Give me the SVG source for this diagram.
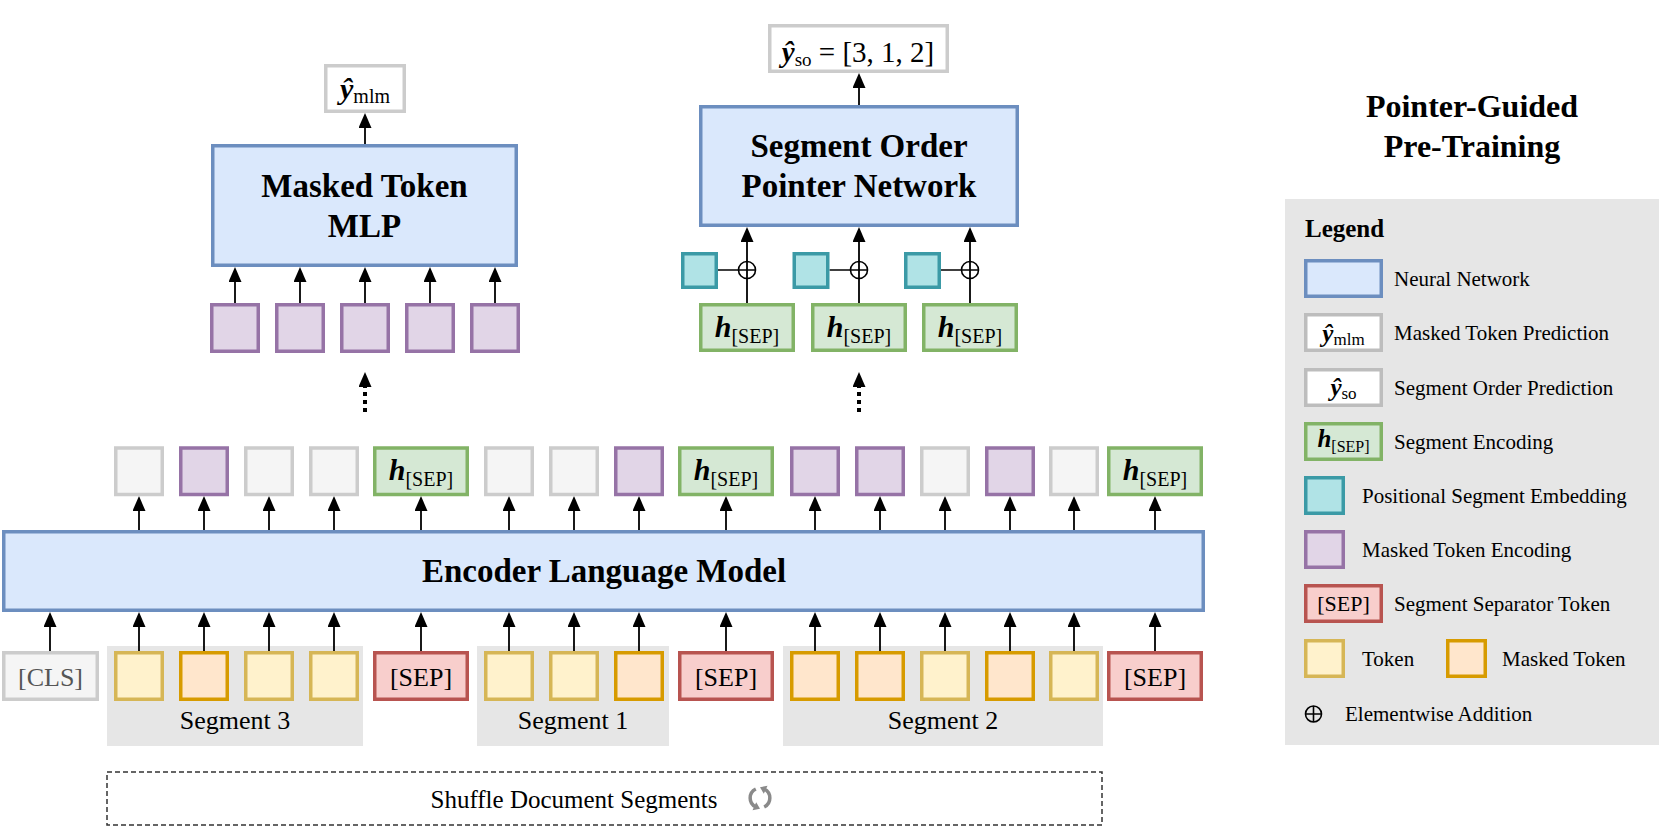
<svg xmlns="http://www.w3.org/2000/svg" width="1661" height="832" viewBox="0 0 1661 832">
<style>
.nn{fill:#dae8fc;stroke:#6c8ebf;stroke-width:3.5}
.gr{fill:#f5f5f5;stroke:#cccccc;stroke-width:3.5}
.pu{fill:#e1d5e7;stroke:#9673a6;stroke-width:3.5}
.gn{fill:#d5e8d4;stroke:#82b366;stroke-width:3.5}
.tl{fill:#b0e3e6;stroke:#3b9aa6;stroke-width:3.5}
.sp{fill:#f8cecc;stroke:#b85450;stroke-width:3.5}
.tk{fill:#fff2cc;stroke:#d6b656;stroke-width:3.5}
.mk{fill:#ffe6cc;stroke:#d79b00;stroke-width:3.5}
.out{fill:#ffffff;stroke:#cccccc;stroke-width:3.5}
.lout{fill:#ffffff;stroke:#bdbdbd;stroke-width:3.5}
.seg{fill:#e6e6e6}
.t{font-family:"Liberation Serif","Times New Roman",serif;fill:#000}
.b{font-weight:bold}
.bi{font-weight:bold;font-style:italic}
.ar{stroke:#000;stroke-width:1.8;fill:none;marker-end:url(#ah)}
.dt{stroke:#000;stroke-width:4;fill:none;stroke-dasharray:4 4;marker-end:url(#ahd)}
.pl{fill:none;stroke:#000;stroke-width:1.6}
</style>
<defs>
<marker id="ah" markerWidth="15" markerHeight="13" refX="9" refY="6.5" orient="auto" markerUnits="userSpaceOnUse"><path d="M0,0 L15,6.5 L0,13 z" fill="#000"/></marker>
<marker id="ahd" markerWidth="15" markerHeight="13" refX="0" refY="6.5" orient="auto" markerUnits="userSpaceOnUse"><path d="M0,0 L15,6.5 L0,13 z" fill="#000"/></marker>
</defs>
<rect width="1661" height="832" fill="#ffffff"/>

<g id="segment-backgrounds">
<rect class="seg" x="107" y="646" width="256" height="100"/>
<rect class="seg" x="477" y="646" width="192" height="100"/>
<rect class="seg" x="783" y="646" width="320" height="100"/>
<text class="t" x="235" y="729" font-size="26" text-anchor="middle">Segment 3</text>
<text class="t" x="573" y="729" font-size="26" text-anchor="middle">Segment 1</text>
<text class="t" x="943" y="729" font-size="26" text-anchor="middle">Segment 2</text>
</g>

<g id="shuffle">
<rect x="107" y="772" width="995" height="53" fill="none" stroke="#333" stroke-width="1.5" stroke-dasharray="5 3"/>
<text class="t" x="574" y="808" font-size="25" text-anchor="middle">Shuffle Document Segments</text>
<g fill="none" stroke="#8a8a8a" stroke-width="3.5">
<path d="M755.8,789 A10,10 0 0 0 755.8,807"/>
<path d="M764.2,807 A10,10 0 0 0 764.2,789"/>
</g>
<polygon points="760,808.8 752.5,810.2 756.2,802.2" fill="#8a8a8a"/>
<polygon points="760,787.2 767.5,785.8 763.8,793.8" fill="#8a8a8a"/>
</g>

<g id="connectors">
<path class="ar" d="M50,651 V618"/>
<path class="ar" d="M139,651 V618"/>
<path class="ar" d="M204,651 V618"/>
<path class="ar" d="M269,651 V618"/>
<path class="ar" d="M334,651 V618"/>
<path class="ar" d="M421,651 V618"/>
<path class="ar" d="M509,651 V618"/>
<path class="ar" d="M574,651 V618"/>
<path class="ar" d="M639,651 V618"/>
<path class="ar" d="M726,651 V618"/>
<path class="ar" d="M815,651 V618"/>
<path class="ar" d="M880,651 V618"/>
<path class="ar" d="M945,651 V618"/>
<path class="ar" d="M1010,651 V618"/>
<path class="ar" d="M1074,651 V618"/>
<path class="ar" d="M1155,651 V618"/>
<path class="ar" d="M139,530 V502"/>
<path class="ar" d="M204,530 V502"/>
<path class="ar" d="M269,530 V502"/>
<path class="ar" d="M334,530 V502"/>
<path class="ar" d="M421,530 V502"/>
<path class="ar" d="M509,530 V502"/>
<path class="ar" d="M574,530 V502"/>
<path class="ar" d="M639,530 V502"/>
<path class="ar" d="M726,530 V502"/>
<path class="ar" d="M815,530 V502"/>
<path class="ar" d="M880,530 V502"/>
<path class="ar" d="M945,530 V502"/>
<path class="ar" d="M1010,530 V502"/>
<path class="ar" d="M1074,530 V502"/>
<path class="ar" d="M1155,530 V502"/>
<path class="dt" d="M365,412 V387"/>
<path class="dt" d="M859,412 V387"/>
<path class="ar" d="M235,303 V273"/>
<path class="ar" d="M300,303 V273"/>
<path class="ar" d="M365,303 V273"/>
<path class="ar" d="M430,303 V273"/>
<path class="ar" d="M495,303 V273"/>
<path class="ar" d="M365,144 V119"/>
<path class="ar" d="M747,303 V233"/>
<path class="ar" d="M859,303 V233"/>
<path class="ar" d="M970,303 V233"/>
<path class="ar" d="M859,105 V79"/>
<path class="pl" d="M718,270 H755.5"/>
<path class="pl" d="M829.5,270 H867.5"/>
<path class="pl" d="M941,270 H978.5"/>
<circle class="pl" cx="747" cy="270" r="8.5"/>
<circle class="pl" cx="859" cy="270" r="8.5"/>
<circle class="pl" cx="970" cy="270" r="8.5"/>
</g>

<g id="encoder">
<rect class="nn" x="3.75" y="531.75" width="1199.5" height="78.5"/>
<text class="t b" x="604" y="582" font-size="33" text-anchor="middle">Encoder Language Model</text>
</g>

<g id="input-row">
<rect class="gr" x="3.75" y="652.75" width="93.5" height="46.5"/>
<text class="t" x="50.5" y="686" font-size="26" text-anchor="middle" style="fill:#555">[CLS]</text>
<rect class="tk" x="115.75" y="652.75" width="46.5" height="46.5"/>
<rect class="mk" x="180.75" y="652.75" width="46.5" height="46.5"/>
<rect class="tk" x="245.75" y="652.75" width="46.5" height="46.5"/>
<rect class="tk" x="310.75" y="652.75" width="46.5" height="46.5"/>
<rect class="sp" x="374.75" y="652.75" width="92.5" height="46.5"/>
<text class="t" x="421" y="686" font-size="26" text-anchor="middle">[SEP]</text>
<rect class="tk" x="485.75" y="652.75" width="46.5" height="46.5"/>
<rect class="tk" x="550.75" y="652.75" width="46.5" height="46.5"/>
<rect class="mk" x="615.75" y="652.75" width="46.5" height="46.5"/>
<rect class="sp" x="679.75" y="652.75" width="92.5" height="46.5"/>
<text class="t" x="726" y="686" font-size="26" text-anchor="middle">[SEP]</text>
<rect class="mk" x="791.75" y="652.75" width="46.5" height="46.5"/>
<rect class="mk" x="856.75" y="652.75" width="46.5" height="46.5"/>
<rect class="tk" x="921.75" y="652.75" width="46.5" height="46.5"/>
<rect class="mk" x="986.75" y="652.75" width="46.5" height="46.5"/>
<rect class="tk" x="1050.75" y="652.75" width="46.5" height="46.5"/>
<rect class="sp" x="1108.75" y="652.75" width="92.5" height="46.5"/>
<text class="t" x="1155" y="686" font-size="26" text-anchor="middle">[SEP]</text>
</g>

<g id="output-row">
<rect class="gr" x="115.75" y="448" width="46.5" height="46.5"/>
<rect class="pu" x="180.75" y="448" width="46.5" height="46.5"/>
<rect class="gr" x="245.75" y="448" width="46.5" height="46.5"/>
<rect class="gr" x="310.75" y="448" width="46.5" height="46.5"/>
<rect class="gn" x="374.75" y="448" width="92.5" height="46.5"/>
<text class="t" x="421" y="480" font-size="30" text-anchor="middle"><tspan class="bi">h</tspan><tspan font-size="20" dy="6">[SEP]</tspan></text>
<rect class="gr" x="485.75" y="448" width="46.5" height="46.5"/>
<rect class="gr" x="550.75" y="448" width="46.5" height="46.5"/>
<rect class="pu" x="615.75" y="448" width="46.5" height="46.5"/>
<rect class="gn" x="679.75" y="448" width="92.5" height="46.5"/>
<text class="t" x="726" y="480" font-size="30" text-anchor="middle"><tspan class="bi">h</tspan><tspan font-size="20" dy="6">[SEP]</tspan></text>
<rect class="pu" x="791.75" y="448" width="46.5" height="46.5"/>
<rect class="pu" x="856.75" y="448" width="46.5" height="46.5"/>
<rect class="gr" x="921.75" y="448" width="46.5" height="46.5"/>
<rect class="pu" x="986.75" y="448" width="46.5" height="46.5"/>
<rect class="gr" x="1050.75" y="448" width="46.5" height="46.5"/>
<rect class="gn" x="1108.75" y="448" width="92.5" height="46.5"/>
<text class="t" x="1155" y="480" font-size="30" text-anchor="middle"><tspan class="bi">h</tspan><tspan font-size="20" dy="6">[SEP]</tspan></text>
</g>

<g id="mlm-inputs">
<rect class="pu" x="211.75" y="304.75" width="46.5" height="46.5"/>
<rect class="pu" x="276.75" y="304.75" width="46.5" height="46.5"/>
<rect class="pu" x="341.75" y="304.75" width="46.5" height="46.5"/>
<rect class="pu" x="406.75" y="304.75" width="46.5" height="46.5"/>
<rect class="pu" x="471.75" y="304.75" width="46.5" height="46.5"/>
</g>

<g id="masked-token-mlp">
<rect class="nn" x="212.75" y="145.75" width="303.5" height="119.5"/>
<text class="t b" x="364.5" y="197" font-size="33" text-anchor="middle">Masked Token</text>
<text class="t b" x="364.5" y="237" font-size="33" text-anchor="middle">MLP</text>
</g>

<g id="y-mlm">
<rect class="out" x="325.75" y="65.75" width="78.5" height="45.5"/>
<text class="t" x="365" y="99" font-size="30" text-anchor="middle"><tspan class="bi">ŷ</tspan><tspan font-size="20" dy="4">mlm</tspan></text>
</g>

<g id="pointer-inputs">
<rect class="gn" x="700.75" y="304.75" width="92.5" height="45.5"/>
<text class="t" x="747" y="337" font-size="30" text-anchor="middle"><tspan class="bi">h</tspan><tspan font-size="20" dy="6">[SEP]</tspan></text>
<rect class="gn" x="812.75" y="304.75" width="92.5" height="45.5"/>
<text class="t" x="859" y="337" font-size="30" text-anchor="middle"><tspan class="bi">h</tspan><tspan font-size="20" dy="6">[SEP]</tspan></text>
<rect class="gn" x="923.75" y="304.75" width="92.5" height="45.5"/>
<text class="t" x="970" y="337" font-size="30" text-anchor="middle"><tspan class="bi">h</tspan><tspan font-size="20" dy="6">[SEP]</tspan></text>
<rect class="tl" x="682.75" y="253.75" width="33.5" height="33.5"/>
<rect class="tl" x="794.25" y="253.75" width="33.5" height="33.5"/>
<rect class="tl" x="905.75" y="253.75" width="33.5" height="33.5"/>
</g>

<g id="pointer-network">
<rect class="nn" x="700.75" y="106.75" width="316.5" height="118.5"/>
<text class="t b" x="859" y="157" font-size="33" text-anchor="middle">Segment Order</text>
<text class="t b" x="859" y="197" font-size="33" text-anchor="middle">Pointer Network</text>
</g>

<g id="y-so">
<rect class="out" x="769.75" y="25.75" width="177.5" height="45.5"/>
<text class="t" x="858" y="62" font-size="29" text-anchor="middle"><tspan class="bi">ŷ</tspan><tspan font-size="19" dy="4">so</tspan><tspan dy="-4"> = [3, 1, 2]</tspan></text>
</g>

<g id="title">
<text class="t b" x="1472" y="117" font-size="32" text-anchor="middle">Pointer-Guided</text>
<text class="t b" x="1472" y="157" font-size="32" text-anchor="middle">Pre-Training</text>
</g>

<g id="legend">
<rect x="1285" y="199" width="374" height="546" fill="#e6e6e6"/>
<text class="t b" x="1305" y="237" font-size="25">Legend</text>
<rect class="nn" x="1305.75" y="260.75" width="75.5" height="35.5"/>
<text class="t" x="1394" y="286" font-size="21">Neural Network</text>
<rect class="lout" x="1305.75" y="314.75" width="75.5" height="35.5"/>
<text class="t" x="1343.5" y="342" font-size="25" text-anchor="middle"><tspan class="bi">ŷ</tspan><tspan font-size="17" dy="3">mlm</tspan></text>
<text class="t" x="1394" y="340" font-size="21">Masked Token Prediction</text>
<rect class="lout" x="1305.75" y="369.75" width="75.5" height="35.5"/>
<text class="t" x="1343.5" y="396" font-size="25" text-anchor="middle"><tspan class="bi">ŷ</tspan><tspan font-size="17" dy="3">so</tspan></text>
<text class="t" x="1394" y="395" font-size="21">Segment Order Prediction</text>
<rect class="gn" x="1305.75" y="423.75" width="75.5" height="35.5"/>
<text class="t" x="1343.5" y="447" font-size="25" text-anchor="middle"><tspan class="bi">h</tspan><tspan font-size="16" dy="5">[SEP]</tspan></text>
<text class="t" x="1394" y="449" font-size="21">Segment Encoding</text>
<rect class="tl" x="1305.75" y="477.75" width="37.5" height="35.5"/>
<text class="t" x="1362" y="503" font-size="21">Positional Segment Embedding</text>
<rect class="pu" x="1305.75" y="531.75" width="37.5" height="35.5"/>
<text class="t" x="1362" y="557" font-size="21">Masked Token Encoding</text>
<rect class="sp" x="1305.75" y="585.75" width="75.5" height="35.5"/>
<text class="t" x="1343.5" y="611" font-size="22" text-anchor="middle">[SEP]</text>
<text class="t" x="1394" y="611" font-size="21">Segment Separator Token</text>
<rect class="tk" x="1305.75" y="640.75" width="37.5" height="35.5"/>
<text class="t" x="1362" y="666" font-size="21">Token</text>
<rect class="mk" x="1447.75" y="640.75" width="37.5" height="35.5"/>
<text class="t" x="1502" y="666" font-size="21">Masked Token</text>
<circle class="pl" cx="1313.5" cy="714" r="8"/>
<path class="pl" d="M1305.5,714 H1321.5 M1313.5,706 V722"/>
<text class="t" x="1345" y="721" font-size="21">Elementwise Addition</text>
</g>
</svg>
